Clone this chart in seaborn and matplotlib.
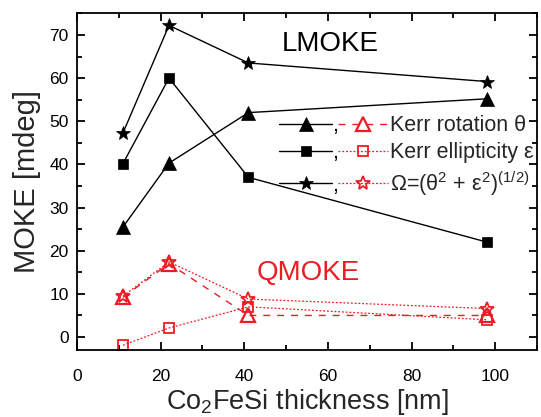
import matplotlib
matplotlib.use("Agg")
import matplotlib.pyplot as plt
import seaborn as sns
from matplotlib.lines import Line2D
from matplotlib.text import Text
from matplotlib.legend_handler import HandlerBase
from matplotlib.ticker import MultipleLocator

# ---- data ----
thickness = [11, 22, 41, 98]
l_rotation = [25.5, 40.3, 52, 55.2]
l_ellipticity = [40.2, 60, 37, 22]
l_omega = [47.3, 72.2, 63.5, 59.2]
q_rotation = [9.2, 17.0, 5.0, 5.0]
q_ellipticity = [-1.9, 2.1, 7.0, 4.0]
q_omega = [9.5, 17.4, 8.8, 6.6]

legend_labels = ["Kerr rotation θ", "Kerr ellipticity ε",
                 "Ω=(θ$^2$ + ε$^2$)$^{(1/2)}$"]
x_label = "Co$_2$FeSi thickness [nm]"
y_label = "MOKE [mdeg]"

RED = "#ED1C24"

sns.set_style("ticks")
plt.rcParams["font.family"] = ["Liberation Sans", "DejaVu Sans"]
plt.rcParams["mathtext.fontset"] = "custom"
plt.rcParams["mathtext.rm"] = "Liberation Sans"
plt.rcParams["mathtext.it"] = "Liberation Sans:italic"
plt.rcParams["mathtext.bf"] = "Liberation Sans:bold"

fig = plt.figure(figsize=(5.41, 4.17), dpi=100)
ax = fig.add_axes([0.1423, 0.1607, 0.8503, 0.8073])


def draw(y, **kw):
    sns.lineplot(x=thickness, y=y, ax=ax, **kw)
    return ax.lines[-1]

h_lr = draw(l_rotation, color="black", lw=1.0, marker="^", ms=9.5,
            mfc="black", mec="black", mew=0.5, linestyle="-")
h_le = draw(l_ellipticity, color="black", lw=1.0, marker="s", ms=7.5,
            mfc="black", mec="black", mew=0.5, linestyle="-")
h_lo = draw(l_omega, color="black", lw=1.0, marker="*", ms=10,
            mfc="black", mec="black", mew=0.5, linestyle="-")
h_qr = draw(q_rotation, color=RED, lw=1.0, marker="^", ms=10.5,
            mfc="none", mec=RED, mew=1.6, linestyle=(0, (5, 5)))
h_qe = draw(q_ellipticity, color=RED, lw=0.9, marker="s", ms=7.5,
            mfc="none", mec=RED, mew=1.3, linestyle=(0, (1.5, 1.5)))
h_qo = draw(q_omega, color=RED, lw=0.9, marker="*", ms=10,
            mfc="none", mec=RED, mew=1.3, linestyle=(0, (1.5, 1.5)))

ax.set_xlim(0, 110)
ax.set_ylim(-3, 75)
ax.xaxis.set_major_locator(MultipleLocator(20))
ax.xaxis.set_minor_locator(MultipleLocator(10))
ax.yaxis.set_major_locator(MultipleLocator(10))
ax.yaxis.set_minor_locator(MultipleLocator(5))
ax.tick_params(which="both", direction="in", top=True, right=True,
               width=1.3, labelsize=12.5, colors="black")
ax.tick_params(which="major", length=6)
ax.tick_params(which="minor", length=3.5)
ax.tick_params(axis="x", labeltop=False, pad=14)
ax.tick_params(axis="y", labelright=False, pad=6)
for s in ax.spines.values():
    s.set_linewidth(1.3)
    s.set_color("black")

ax.set_xlabel(x_label, fontsize=19.5, labelpad=2)
ax.set_ylabel(y_label, fontsize=21, labelpad=6)

ax.text(60.6, 68.0, "LMOKE", fontsize=20, ha="center", va="center", color="black")
ax.text(55.3, 14.8, "QMOKE", fontsize=20, ha="center", va="center", color=RED)


class PairHandler(HandlerBase):
    def create_artists(self, legend, orig_handle, xdescent, ydescent,
                       width, height, fontsize, trans):
        blk, red = orig_handle
        y = height / 2 - ydescent
        x0 = -xdescent
        w1 = width * 0.48
        gap = width * 0.06
        arts = []
        for src, a, b in ((blk, x0, x0 + w1), (red, x0 + w1 + gap, x0 + width)):
            ln = Line2D([a, b], [y, y])
            ln.update_from(src)
            ln.set_marker("")
            mk = Line2D([(a + b) / 2], [y])
            mk.update_from(src)
            mk.set_linestyle("none")
            ln.set_transform(trans)
            mk.set_transform(trans)
            arts += [ln, mk]
        t = Text(x0 + w1 + gap * 0.45, y - height * 0.5, ",", fontsize=fontsize,
                 ha="center", va="baseline", color="black")
        t.set_transform(trans)
        arts.append(t)
        return arts


ax.legend([(h_lr, h_qr), (h_le, h_qe), (h_lo, h_qo)], legend_labels,
          handler_map={tuple: PairHandler()}, loc="upper left",
          bbox_to_anchor=(0.44, 0.697), frameon=False, fontsize=15.5,
          handlelength=5.06, handletextpad=0.1, labelspacing=0.28,
          borderpad=0, borderaxespad=0)

fig.savefig("out.png", dpi=100)
